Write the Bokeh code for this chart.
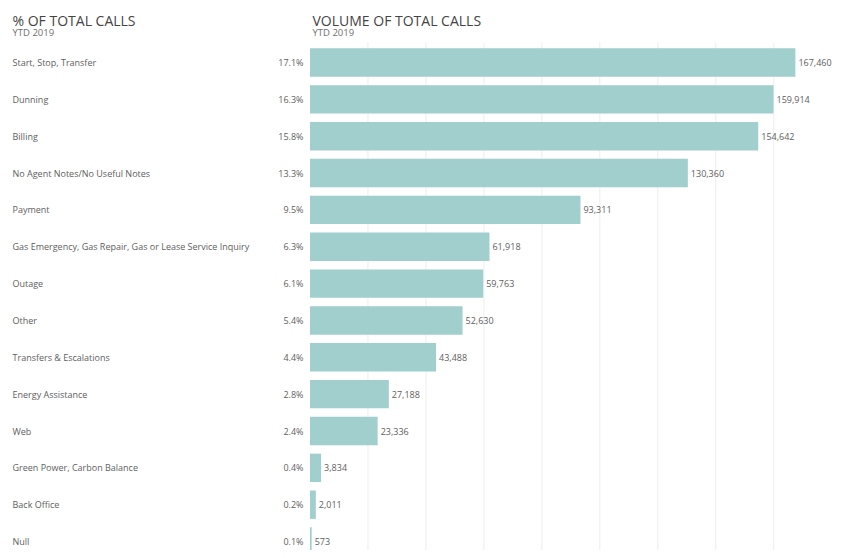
from bokeh.plotting import figure
from bokeh.models import ColumnDataSource, Label
from bokeh.core.properties import value
from bokeh.embed import file_html
from bokeh.resources import INLINE

# ---------------- data ----------------
categories = [
    "Start, Stop, Transfer",
    "Dunning",
    "Billing",
    "No Agent Notes/No Useful Notes",
    "Payment",
    "Gas Emergency, Gas Repair, Gas or Lease Service Inquiry",
    "Outage",
    "Other",
    "Transfers & Escalations",
    "Energy Assistance",
    "Web",
    "Green Power, Carbon Balance",
    "Back Office",
    "Null",
]
pct_of_total = [17.1, 16.3, 15.8, 13.3, 9.5, 6.3, 6.1, 5.4, 4.4, 2.8, 2.4, 0.4, 0.2, 0.1]
call_volume = [167460, 159914, 154642, 130360, 93311, 61918, 59763, 52630, 43488,
               27188, 23336, 3834, 2011, 573]
grid_ticks = [20000, 40000, 60000, 80000, 100000, 120000, 140000, 160000]

# ---------------- layout constants ----------------
W, H = 837, 550
ZERO_PX = 309.5          # canvas px where value 0 sits
UPP = 345.0              # data units per pixel
ROW0_PX = 62.0           # canvas y of first row centre
ROW_PX = 36.85           # pixel height of one row
X_START = -ZERO_PX * UPP
X_END = (W - ZERO_PX) * UPP


def xd(px):
    return X_START + px * UPP


def yd(py):
    return (py - ROW0_PX) / ROW_PX


FONT = "Open Sans"
BAR = "#A0CFCD"
TXT = "#606060"

rows = list(range(len(categories)))
src = ColumnDataSource(dict(
    y=rows,
    cat=categories,
    vol=call_volume,
    vol_lbl=[f"{v:,}" for v in call_volume],
    vol_x=[v + 3 * UPP for v in call_volume],
    pct_lbl=[f"{p:.1f}%" for p in pct_of_total],
))

p = figure(width=W, height=H, output_backend="svg", toolbar_location=None,
           x_range=(X_START, X_END), y_range=(yd(H), yd(0)),
           min_border=0, outline_line_color=None)
p.axis.visible = False
p.grid.visible = False
p.background_fill_color = "white"
p.border_fill_color = "white"

# gridlines
p.segment(x0=grid_ticks, x1=grid_ticks, y0=[yd(42)] * len(grid_ticks),
          y1=[yd(H)] * len(grid_ticks), line_color="#EDEDED", line_width=1)

# bars
p.hbar(y="y", left=0, right="vol", height=0.77, source=src,
       fill_color=BAR, line_color=None)

# value labels
p.text(x="vol_x", y="y", text="vol_lbl", source=src, text_font=value(FONT),
       text_font_size="9px", text_color=TXT, text_baseline="middle", text_align="left")

# category labels
p.text(x=xd(12), y="y", text="cat", source=src, text_font=value(FONT),
       text_font_size="9px", text_color=TXT, text_baseline="middle", text_align="left")

# percent labels
p.text(x=xd(303), y="y", text="pct_lbl", source=src, text_font=value(FONT),
       text_font_size="9px", text_color=TXT, text_baseline="middle", text_align="right")

# titles
for txt, px in (("% OF TOTAL CALLS", 12), ("VOLUME OF TOTAL CALLS", 312)):
    p.add_layout(Label(x=xd(px), y=yd(19.5), text=txt, text_font=FONT,
                       text_font_size="14px", text_color="#444444",
                       text_baseline="alphabetic", text_align="left"))
    p.add_layout(Label(x=xd(px), y=yd(32), text="YTD 2019", text_font=FONT,
                       text_font_size="9.5px", text_color="#707070",
                       text_baseline="alphabetic", text_align="left"))

open("out.html", "w").write(file_html(p, INLINE))
